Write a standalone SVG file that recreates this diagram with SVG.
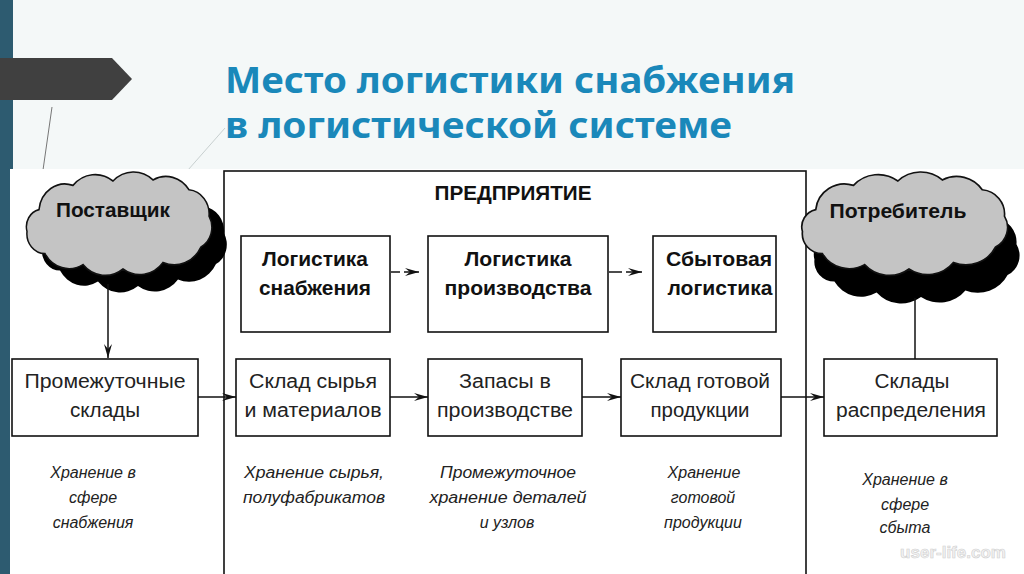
<svg xmlns="http://www.w3.org/2000/svg" width="1024" height="574" viewBox="0 0 1024 574">
<style>
.title{font-family:"Noto Sans","Open Sans",Arial,sans-serif;font-weight:bold;font-size:35px;fill:#1a88ba}
.bx{fill:#fff;stroke:#111;stroke-width:1.6}
.tb{font-family:"Liberation Sans",Arial,sans-serif;font-weight:bold;font-size:20px;fill:#111;text-anchor:middle}
.tr{font-family:"Liberation Sans",Arial,sans-serif;font-size:20px;fill:#222;text-anchor:middle}
.ti{font-family:"Liberation Sans",Arial,sans-serif;font-style:italic;font-size:16px;fill:#222;text-anchor:middle}
.ln{stroke:#111;stroke-width:1.5;fill:none}
.cloud{fill:#c4c4c4;stroke:#111;stroke-width:1.5}
</style>
<defs>
<marker id="ah" viewBox="0 0 14 10" refX="14" refY="5" markerWidth="14" markerHeight="10" markerUnits="userSpaceOnUse" orient="auto">
<path d="M0,1 L14,5 L0,9 L5,5 z" fill="#111"/>
</marker>
<path id="cl" d="M16,36 A26,26 0 0 1 50,14 A30,30 0 0 1 90,10 A30,30 0 0 1 130,9 A28,28 0 0 1 166,18 A22,22 0 0 1 186,42 A20,20 0 0 1 178,70 A30,30 0 0 1 140,84 A30,30 0 0 1 100,90 A30,30 0 0 1 60,86 A28,28 0 0 1 22,76 A18,18 0 0 1 4,56 A16,16 0 0 1 16,36 z"/>
</defs>
<rect x="0" y="0" width="1024" height="574" fill="#f4f8f8"/>
<rect x="0" y="0" width="13" height="574" fill="#2d5b70"/>
<path d="M0,58 L112,58 L132,79 L112,100 L0,100 z" fill="#404040"/>
<line x1="52" y1="107" x2="43" y2="170" stroke="#777" stroke-width="1"/>
<line x1="225" y1="128" x2="188" y2="170" stroke="#c8d0d0" stroke-width="1"/>
<text class="title" x="225" y="93" textLength="570" lengthAdjust="spacingAndGlyphs">Место логистики снабжения</text>
<text class="title" x="225" y="138" textLength="507" lengthAdjust="spacingAndGlyphs">в логистической системе</text>
<rect x="10" y="169" width="1014" height="405" fill="#fff"/>

<g id="enterprise">
<rect x="224" y="171" width="582" height="420" fill="none" stroke="#111" stroke-width="1.6"/>
<text class="tb" x="513" y="200" font-size="19" textLength="157" lengthAdjust="spacingAndGlyphs">ПРЕДПРИЯТИЕ</text>
</g>

<g id="supplier">
<use href="#cl" transform="translate(38,187) scale(1,1.1)" fill="#000"/>
<use href="#cl" transform="translate(23,170) scale(1,1.1)" class="cloud"/>
<text class="tb" x="113" y="217" textLength="114" lengthAdjust="spacingAndGlyphs">Поставщик</text>
</g>

<g id="consumer">
<use href="#cl" transform="translate(810,198) scale(1.11,1.1)" fill="#000"/>
<use href="#cl" transform="translate(798,170) scale(1.11,1.1)" class="cloud"/>
<text class="tb" x="898" y="218" textLength="137" lengthAdjust="spacingAndGlyphs">Потребитель</text>
</g>

<g id="log-supply">
<rect class="bx" x="241" y="236" width="149" height="96"/>
<text class="tb" x="315" y="266" textLength="106" lengthAdjust="spacingAndGlyphs">Логистика</text>
<text class="tb" x="315" y="295" textLength="112" lengthAdjust="spacingAndGlyphs">снабжения</text>
</g>
<g id="log-prod">
<rect class="bx" x="428" y="236" width="180" height="96"/>
<text class="tb" x="518" y="266" textLength="107" lengthAdjust="spacingAndGlyphs">Логистика</text>
<text class="tb" x="518" y="295" textLength="147" lengthAdjust="spacingAndGlyphs">производства</text>
</g>
<g id="log-sales">
<rect class="bx" x="653" y="236" width="123" height="96"/>
<text class="tb" x="719" y="266" textLength="106" lengthAdjust="spacingAndGlyphs">Сбытовая</text>
<text class="tb" x="720" y="295" textLength="105" lengthAdjust="spacingAndGlyphs">логистика</text>
</g>

<g id="interm">
<rect class="bx" x="12" y="359" width="186" height="77"/>
<text class="tr" x="105" y="388" textLength="161" lengthAdjust="spacingAndGlyphs">Промежуточные</text>
<text class="tr" x="105" y="417" textLength="70" lengthAdjust="spacingAndGlyphs">склады</text>
</g>
<g id="raw">
<rect class="bx" x="236" y="359" width="154" height="77"/>
<text class="tr" x="313" y="388" textLength="128" lengthAdjust="spacingAndGlyphs">Склад сырья</text>
<text class="tr" x="313" y="417" textLength="137" lengthAdjust="spacingAndGlyphs">и материалов</text>
</g>
<g id="wip">
<rect class="bx" x="428" y="359" width="154" height="77"/>
<text class="tr" x="505" y="388" textLength="92" lengthAdjust="spacingAndGlyphs">Запасы в</text>
<text class="tr" x="505" y="417" textLength="136" lengthAdjust="spacingAndGlyphs">производстве</text>
</g>
<g id="finished">
<rect class="bx" x="621" y="359" width="160" height="77"/>
<text class="tr" x="700" y="388" textLength="140" lengthAdjust="spacingAndGlyphs">Склад готовой</text>
<text class="tr" x="700" y="417" textLength="99" lengthAdjust="spacingAndGlyphs">продукции</text>
</g>
<g id="distrib">
<rect class="bx" x="824" y="359" width="173" height="77"/>
<text class="tr" x="912" y="388" textLength="75" lengthAdjust="spacingAndGlyphs">Склады</text>
<text class="tr" x="911" y="417" textLength="150" lengthAdjust="spacingAndGlyphs">распределения</text>
</g>

<g id="connectors">
<line class="ln" x1="108" y1="284" x2="108" y2="358" marker-end="url(#ah)"/>
<line class="ln" x1="915" y1="298" x2="915" y2="359"/>
<line class="ln" x1="391" y1="272" x2="400" y2="272"/>
<line class="ln" x1="404" y1="272" x2="419" y2="272" marker-end="url(#ah)"/>
<line class="ln" x1="609" y1="272" x2="622" y2="272"/>
<line class="ln" x1="626" y1="272" x2="642" y2="272" marker-end="url(#ah)"/>
<line class="ln" x1="198" y1="397" x2="236" y2="397" marker-end="url(#ah)"/>
<line class="ln" x1="390" y1="397" x2="428" y2="397" marker-end="url(#ah)"/>
<line class="ln" x1="582" y1="397" x2="621" y2="397" marker-end="url(#ah)"/>
<line class="ln" x1="781" y1="397" x2="824" y2="397" marker-end="url(#ah)"/>
</g>

<g id="notes">
<text class="ti" x="93" y="478">Хранение в</text>
<text class="ti" x="93" y="503">сфере</text>
<text class="ti" x="93" y="528">снабжения</text>
<text class="ti" x="314" y="478" textLength="140" lengthAdjust="spacingAndGlyphs">Хранение сырья,</text>
<text class="ti" x="314" y="503" textLength="142" lengthAdjust="spacingAndGlyphs">полуфабрикатов</text>
<text class="ti" x="508" y="478" textLength="136" lengthAdjust="spacingAndGlyphs">Промежуточное</text>
<text class="ti" x="508" y="503" textLength="157" lengthAdjust="spacingAndGlyphs">хранение деталей</text>
<text class="ti" x="507" y="528">и узлов</text>
<text class="ti" x="704" y="478">Хранение</text>
<text class="ti" x="703" y="503">готовой</text>
<text class="ti" x="703" y="528">продукции</text>
<text class="ti" x="905" y="485">Хранение в</text>
<text class="ti" x="905" y="510">сфере</text>
<text class="ti" x="905" y="533">сбыта</text>
</g>
<text x="953" y="558" font-family="'Liberation Sans',Arial,sans-serif" font-weight="bold" font-size="17" fill="#f2f2f2" stroke="#d0d0d0" stroke-width="0.6" text-anchor="middle">user-life.com</text>
</svg>
